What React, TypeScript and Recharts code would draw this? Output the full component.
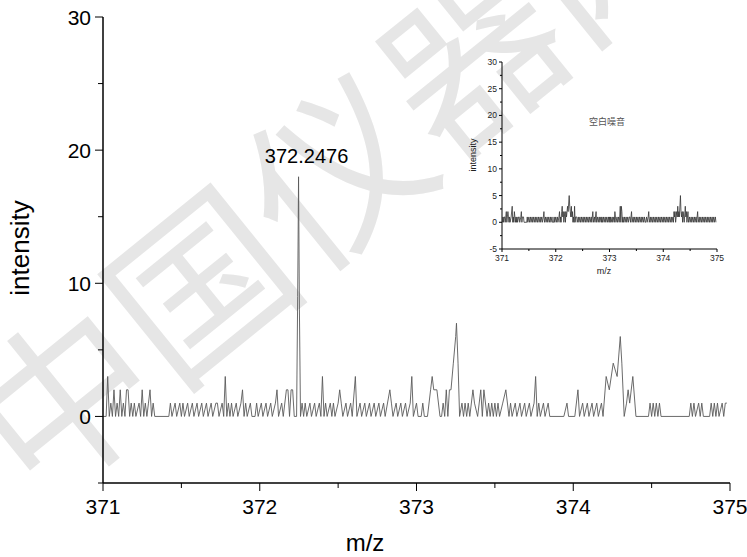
import React from 'react';
import { LineChart, Line, XAxis, YAxis, ReferenceDot } from 'recharts';

const FONT = '"Liberation Sans", Arial, sans-serif';

// main spectrum, vertices
const MAIN_MZ = [
  371.00, 371.02, 371.03, 371.04, 371.05, 371.06, 371.07, 371.08, 371.09, 371.10,
  371.11, 371.12, 371.13, 371.14, 371.15, 371.16, 371.17, 371.18, 371.19, 371.20,
  371.21, 371.23, 371.24, 371.25, 371.26, 371.27, 371.28, 371.29, 371.30, 371.31,
  371.32, 371.33, 371.42, 371.43, 371.44, 371.46, 371.47, 371.49, 371.50, 371.51,
  371.52, 371.54, 371.55, 371.57, 371.58, 371.60, 371.61, 371.63, 371.64, 371.66,
  371.67, 371.69, 371.70, 371.72, 371.73, 371.74, 371.76, 371.77, 371.78, 371.79,
  371.80, 371.81, 371.82, 371.83, 371.85, 371.86, 371.88, 371.89, 371.90, 371.91,
  371.92, 371.94, 371.95, 371.97, 371.98, 371.99, 372.01, 372.02, 372.04, 372.05,
  372.07, 372.08, 372.10, 372.11, 372.12, 372.14, 372.15, 372.17, 372.18, 372.19,
  372.20, 372.21, 372.22, 372.235, 372.242, 372.2476, 372.253, 372.26, 372.27, 372.28,
  372.29, 372.30, 372.32, 372.33, 372.35, 372.36, 372.38, 372.39, 372.40, 372.41,
  372.42, 372.43, 372.45, 372.46, 372.47, 372.48, 372.50, 372.51, 372.52, 372.53,
  372.55, 372.56, 372.58, 372.59, 372.61, 372.62, 372.64, 372.65, 372.67, 372.68,
  372.70, 372.71, 372.73, 372.74, 372.76, 372.77, 372.79, 372.80, 372.83, 372.84,
  372.85, 372.87, 372.88, 372.90, 372.91, 372.93, 372.94, 372.96, 372.97, 372.98,
  373.00, 373.01, 373.03, 373.04, 373.05, 373.07, 373.09, 373.10, 373.11, 373.13,
  373.15, 373.16, 373.17, 373.18, 373.19, 373.20, 373.21, 373.22, 373.235, 373.25,
  373.255, 373.265, 373.275, 373.29, 373.30, 373.31, 373.32, 373.33, 373.34, 373.36,
  373.37, 373.39, 373.41, 373.42, 373.43, 373.45, 373.46, 373.47, 373.48, 373.49,
  373.50, 373.51, 373.52, 373.53, 373.55, 373.57, 373.59, 373.60, 373.61, 373.63,
  373.64, 373.66, 373.67, 373.69, 373.70, 373.72, 373.73, 373.75, 373.76, 373.77,
  373.78, 373.79, 373.81, 373.82, 373.84, 373.85, 373.94, 373.96, 373.97, 374.01,
  374.03, 374.04, 374.06, 374.07, 374.09, 374.10, 374.12, 374.13, 374.15, 374.16,
  374.18, 374.19, 374.21, 374.23, 374.255, 374.28, 374.30, 374.31, 374.325, 374.34,
  374.35, 374.36, 374.38, 374.40, 374.48, 374.49, 374.50, 374.51, 374.52, 374.53,
  374.54, 374.55, 374.56, 374.74, 374.75, 374.76, 374.77, 374.78, 374.80, 374.81,
  374.82, 374.83, 374.87, 374.88, 374.89, 374.90, 374.91, 374.92, 374.93, 374.95,
  374.96, 374.97, 374.98,
];
const MAIN_INTENSITY = [
  0, 0, 3, 0, 1, 0, 2, 0, 1, 0,
  2, 0, 1, 0, 2, 2, 0, 1, 0, 1,
  0, 1, 0, 2, 0, 1, 0, 1, 2, 0,
  1, 0, 0, 1, 0, 1, 0, 1, 0, 1,
  0, 1, 0, 1, 0, 1, 0, 1, 0, 1,
  0, 1, 0, 1, 1, 0, 1, 0, 3, 0,
  1, 0, 1, 0, 1, 0, 1, 2, 0, 1,
  0, 1, 0, 0, 1, 0, 1, 0, 1, 0,
  1, 0, 1, 2, 0, 1, 0, 2, 2, 0,
  2, 2, 0, 0, 9, 18, 8, 0, 1, 0,
  1, 0, 1, 0, 1, 0, 1, 0, 3, 0,
  1, 0, 1, 0, 1, 0, 1, 2, 1, 0,
  1, 0, 1, 0, 3, 0, 1, 0, 1, 0,
  1, 0, 1, 0, 1, 0, 1, 0, 2, 1,
  0, 1, 0, 1, 0, 1, 0, 1, 3, 0,
  1, 0, 0, 1, 0, 0, 2, 3, 2, 2,
  0, 0, 1, 0, 2, 0, 2, 2, 4, 6,
  7, 4, 0, 1, 0, 1, 0, 1, 0, 2,
  1, 0, 2, 0, 2, 0, 1, 0, 1, 0,
  1, 0, 1, 0, 1, 2, 0, 1, 0, 1,
  0, 1, 0, 1, 0, 1, 0, 1, 3, 0,
  1, 0, 1, 0, 1, 0, 0, 1, 0, 0,
  2, 0, 1, 0, 1, 0, 1, 0, 1, 0,
  1, 0, 3, 2, 4, 3, 6, 4, 0, 1,
  2, 1, 3, 0, 0, 1, 0, 1, 0, 1,
  0, 1, 0, 0, 1, 0, 1, 0, 1, 0,
  1, 0, 0, 1, 0, 1, 0, 1, 0, 1,
  0, 1, 1,
];

// inset: blank noise
const INSET_MZ = [
  371.01, 371.02, 371.03, 371.04, 371.05, 371.06, 371.07, 371.08, 371.09, 371.10,
  371.11, 371.12, 371.13, 371.14, 371.15, 371.17, 371.19, 371.20, 371.21, 371.22,
  371.23, 371.24, 371.25, 371.26, 371.27, 371.28, 371.29, 371.31, 371.32, 371.33,
  371.35, 371.36, 371.37, 371.38, 371.40, 371.41, 371.46, 371.47, 371.48, 371.50,
  371.51, 371.53, 371.54, 371.56, 371.57, 371.59, 371.60, 371.62, 371.63, 371.65,
  371.66, 371.68, 371.69, 371.71, 371.72, 371.74, 371.75, 371.77, 371.78, 371.79,
  371.81, 371.82, 371.84, 371.85, 371.87, 371.88, 371.90, 371.91, 371.93, 371.94,
  371.96, 371.97, 371.98, 372.00, 372.01, 372.03, 372.04, 372.06, 372.07, 372.08,
  372.09, 372.10, 372.11, 372.12, 372.13, 372.14, 372.15, 372.16, 372.17, 372.18,
  372.19, 372.20, 372.21, 372.22, 372.23, 372.25, 372.26, 372.27, 372.28, 372.29,
  372.30, 372.31, 372.32, 372.33, 372.34, 372.35, 372.36, 372.37, 372.39, 372.40,
  372.42, 372.43, 372.45, 372.46, 372.48, 372.49, 372.51, 372.52, 372.54, 372.55,
  372.57, 372.58, 372.60, 372.61, 372.63, 372.64, 372.66, 372.67, 372.69, 372.70,
  372.72, 372.73, 372.75, 372.76, 372.78, 372.79, 372.81, 372.82, 372.84, 372.85,
  372.86, 372.87, 372.89, 372.90, 372.92, 372.93, 372.95, 372.96, 372.98, 372.99,
  373.00, 373.01, 373.02, 373.03, 373.05, 373.06, 373.08, 373.09, 373.10, 373.11,
  373.12, 373.14, 373.15, 373.17, 373.18, 373.19, 373.20, 373.21, 373.22, 373.23,
  373.24, 373.25, 373.26, 373.28, 373.29, 373.31, 373.32, 373.34, 373.35, 373.37,
  373.38, 373.39, 373.41, 373.42, 373.44, 373.45, 373.47, 373.48, 373.50, 373.51,
  373.53, 373.54, 373.56, 373.57, 373.59, 373.60, 373.62, 373.63, 373.65, 373.66,
  373.67, 373.69, 373.70, 373.72, 373.73, 373.74, 373.76, 373.77, 373.79, 373.80,
  373.82, 373.83, 373.85, 373.86, 373.88, 373.89, 373.91, 373.92, 373.94, 373.95,
  373.97, 373.98, 374.00, 374.01, 374.03, 374.04, 374.06, 374.07, 374.09, 374.10,
  374.12, 374.13, 374.15, 374.16, 374.18, 374.19, 374.20, 374.21, 374.22, 374.23,
  374.25, 374.26, 374.27, 374.28, 374.29, 374.30, 374.32, 374.33, 374.34, 374.35,
  374.36, 374.37, 374.38, 374.39, 374.41, 374.42, 374.43, 374.44, 374.46, 374.47,
  374.49, 374.50, 374.52, 374.53, 374.55, 374.56, 374.58, 374.59, 374.61, 374.62,
  374.64, 374.65, 374.67, 374.68, 374.70, 374.71, 374.73, 374.74, 374.76, 374.77,
  374.79, 374.80, 374.82, 374.83, 374.85, 374.86, 374.88, 374.89, 374.91, 374.92,
  374.94, 374.95, 374.97, 374.98,
];
const INSET_INTENSITY = [
  0, 1, 0, 1, 1, 0, 1, 2, 0, 1,
  2, 1, 0, 1, 0, 1, 3, 0, 1, 0,
  2, 1, 0, 1, 0, 1, 0, 1, 1, 0,
  1, 2, 0, 1, 1, 0, 0, 1, 0, 1,
  0, 1, 0, 1, 0, 1, 0, 1, 0, 1,
  0, 1, 0, 1, 0, 1, 0, 1, 2, 0,
  1, 0, 1, 0, 1, 0, 1, 0, 1, 0,
  0, 1, 0, 1, 0, 1, 0, 1, 2, 0,
  1, 0, 2, 3, 1, 2, 0, 1, 2, 0,
  2, 1, 2, 3, 2, 5, 3, 2, 1, 3,
  1, 2, 0, 1, 0, 3, 0, 1, 1, 0,
  1, 0, 1, 0, 1, 0, 1, 0, 1, 0,
  1, 0, 1, 0, 1, 0, 1, 0, 2, 0,
  1, 0, 2, 0, 1, 0, 1, 0, 1, 0,
  1, 0, 1, 0, 1, 0, 1, 0, 1, 0,
  1, 0, 1, 0, 1, 0, 1, 0, 2, 1,
  0, 1, 0, 1, 0, 1, 3, 0, 3, 2,
  0, 1, 0, 1, 0, 1, 0, 1, 0, 1,
  1, 0, 2, 0, 1, 0, 1, 0, 1, 0,
  1, 0, 1, 0, 1, 0, 1, 0, 1, 0,
  0, 1, 0, 1, 2, 0, 1, 0, 1, 0,
  1, 0, 1, 0, 1, 0, 1, 0, 1, 0,
  1, 0, 1, 0, 1, 0, 1, 0, 1, 0,
  1, 0, 1, 0, 1, 0, 2, 1, 2, 0,
  2, 1, 3, 1, 2, 1, 5, 2, 1, 2,
  0, 2, 1, 0, 3, 1, 2, 0, 2, 0,
  1, 0, 1, 0, 1, 0, 1, 0, 1, 0,
  2, 0, 1, 0, 1, 0, 1, 0, 1, 0,
  1, 0, 1, 0, 1, 0, 1, 0, 1, 0,
  1, 0, 1, 0,
];

const MAIN_X_TICKS = [371, 371.5, 372, 372.5, 373, 373.5, 374, 374.5, 375];
const MAIN_X_LABELS = [371, 372, 373, 374, 375];
const MAIN_Y_TICKS = [-5, 0, 5, 10, 15, 20, 25, 30];
const MAIN_Y_LABELS = [0, 10, 20, 30];
const INSET_Y_TICKS = [-5, -2.5, 0, 2.5, 5, 7.5, 10, 12.5, 15, 17.5, 20, 22.5, 25, 27.5, 30];
const INSET_Y_LABELS = [-5, 0, 5, 10, 15, 20, 25, 30];

const PEAK_MZ = 372.2476;
const PEAK_INTENSITY = 18;
const PEAK_LABEL = '372.2476';

// watermark characters and where each one sits
const WATERMARK = ['中', '国', '仪', '器', '网'];
const WATERMARK_POS = [[58, 392], [194, 278], [330, 164], [466, 50], [602, -64]];

const mainData = MAIN_MZ.map((mz, i) => ({ mz, intensity: MAIN_INTENSITY[i] }));
const insetData = INSET_MZ.map((mz, i) => ({ mz, intensity: INSET_INTENSITY[i] }));

const xTick = (labels: number[], major: number, minor: number, base: number, size: number, color: string) =>
  (props: any) => {
    const { x, y, payload } = props;
    const big = labels.includes(payload.value);
    return (
      <g>
        <line x1={x} x2={x} y1={y} y2={y + (big ? major : minor)} stroke="#000" strokeWidth={1} />
        {big && (
          <text x={x} y={y + base} textAnchor="middle" fontSize={size} fontFamily={FONT} fill={color}>
            {payload.value}
          </text>
        )}
      </g>
    );
  };

const yTick = (labels: number[], major: number, minor: number, gap: number, size: number, color: string) =>
  (props: any) => {
    const { x, y, payload } = props;
    const big = labels.includes(payload.value);
    return (
      <g>
        <line x1={x} x2={x - (big ? major : minor)} y1={y} y2={y} stroke="#000" strokeWidth={1} />
        {big && (
          <text x={x - major - gap} y={y + size * 0.36} textAnchor="end" fontSize={size} fontFamily={FONT} fill={color}>
            {payload.value}
          </text>
        )}
      </g>
    );
  };

const abs = (x: number, y: number, extra: React.CSSProperties = {}): React.CSSProperties => ({
  position: 'absolute',
  left: x,
  top: y,
  transform: 'translate(-50%, -50%)',
  whiteSpace: 'nowrap',
  lineHeight: 1,
  fontFamily: FONT,
  color: '#000',
  ...extra,
});

export default function App() {
  return (
    <div style={{ position: 'absolute', left: 0, top: 0, width: 747, height: 557, background: '#fff', overflow: 'hidden' }}>
      {/* watermark */}
      {WATERMARK.map((ch, i) => (
        <div
          key={ch}
          style={abs(WATERMARK_POS[i][0], WATERMARK_POS[i][1], {
            transform: 'translate(-50%, -50%) rotate(-39deg)',
            fontSize: 176,
            fontWeight: 400,
            color: '#e6e6e6',
            fontFamily: '"Noto Sans CJK SC", sans-serif',
          })}
        >
          {ch}
        </div>
      ))}

      <div style={{ position: 'absolute', left: 0, top: 0 }}>
        <LineChart width={747} height={557} data={mainData} margin={{ top: 17, right: 17, left: 0, bottom: 0 }}>
          <XAxis
            dataKey="mz"
            type="number"
            domain={[371, 375]}
            ticks={MAIN_X_TICKS}
            interval={0}
            height={74}
            tickSize={0}
            tickMargin={0}
            tickLine={false}
            axisLine={{ stroke: '#000', strokeWidth: 1.5 }}
            tick={xTick(MAIN_X_LABELS, 8, 5, 31, 21, '#000')}
          />
          <YAxis
            type="number"
            domain={[-5, 30]}
            ticks={MAIN_Y_TICKS}
            interval={0}
            width={103}
            tickSize={0}
            tickMargin={0}
            tickLine={false}
            axisLine={{ stroke: '#000', strokeWidth: 1.5 }}
            tick={yTick(MAIN_Y_LABELS, 8, 5, 4, 21, '#000')}
          />
          <Line
            type="linear"
            dataKey="intensity"
            stroke="#5a5a5a"
            strokeWidth={0.9}
            dot={false}
            isAnimationActive={false}
          />
          <ReferenceDot
            x={PEAK_MZ}
            y={PEAK_INTENSITY}
            r={0}
            fill="none"
            stroke="none"
            label={{ value: PEAK_LABEL, position: 'top', offset: 14, dx: 8, fill: '#000', fontSize: 20, fontFamily: FONT }}
          />
        </LineChart>
      </div>

      {/* inset */}
      <div style={{ position: 'absolute', left: 460, top: 50 }}>
        <LineChart width={270} height={230} data={insetData} margin={{ top: 12, right: 13, left: 0, bottom: 0 }}>
          <XAxis
            dataKey="mz"
            type="number"
            domain={[371, 375]}
            ticks={MAIN_X_TICKS}
            interval={0}
            height={31}
            tickSize={0}
            tickMargin={0}
            tickLine={false}
            axisLine={{ stroke: '#000', strokeWidth: 1 }}
            tick={xTick(MAIN_X_LABELS, 3, 2, 12, 8.5, '#222')}
          />
          <YAxis
            type="number"
            domain={[-5, 30]}
            ticks={INSET_Y_TICKS}
            interval={0}
            width={42}
            tickSize={0}
            tickMargin={0}
            tickLine={false}
            axisLine={{ stroke: '#000', strokeWidth: 1 }}
            tick={yTick(INSET_Y_LABELS, 3, 2, 2, 8.5, '#222')}
          />
          <Line
            type="linear"
            dataKey="intensity"
            stroke="#333"
            strokeWidth={0.8}
            dot={false}
            isAnimationActive={false}
          />
        </LineChart>
      </div>

      {/* axis titles and notes */}
      <div style={abs(20, 248, { transform: 'translate(-50%, -50%) rotate(-90deg)', fontSize: 26 })}>intensity</div>
      <div style={abs(365, 543, { fontSize: 24 })}>m/z</div>
      <div style={abs(473, 155, { transform: 'translate(-50%, -50%) rotate(-90deg)', fontSize: 9, color: '#222' })}>intensity</div>
      <div style={abs(604, 271, { fontSize: 9, color: '#222' })}>m/z</div>
      <div style={abs(607, 121, { fontSize: 9, color: '#555', fontFamily: '"Noto Sans CJK SC", sans-serif' })}>空白噪音</div>
    </div>
  );
}
